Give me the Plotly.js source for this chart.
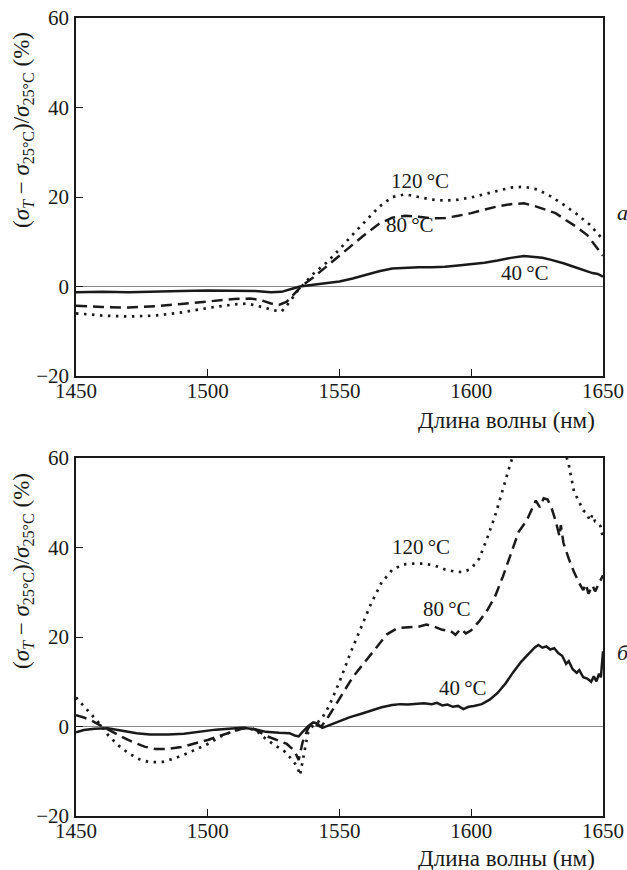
<!DOCTYPE html>
<html><head><meta charset="utf-8">
<script src="https://cdn.plot.ly/plotly-3.0.1.min.js"></script>
<style>html,body{margin:0;padding:0;background:#fff}</style>
</head><body><div id="chart"></div>
<script>
// ---- Panel a (top) ----
const xA40 = [1450,1460,1470,1480,1490,1500,1510,1518,1524,1528,1532,1535,1540,1545,1550,1555,1560,1565,1570,1575,1580,1585,1590,1595,1600,1605,1610,1615,1620,1623,1627,1630,1635,1640,1643,1646,1648,1650];
const yA40 = [-1.3,-1.2,-1.3,-1.1,-1.0,-0.9,-0.9,-1.0,-1.3,-1.2,-0.5,0.0,0.4,0.7,1.1,1.8,2.6,3.4,4.0,4.2,4.3,4.3,4.4,4.7,5.0,5.3,5.8,6.4,6.8,6.7,6.4,6.0,5.2,4.2,3.6,3.0,2.8,2.2];
const xA80 = [1450,1460,1470,1480,1490,1500,1510,1516,1520,1524,1527,1530,1533,1536,1540,1545,1550,1555,1560,1565,1570,1575,1580,1585,1590,1595,1600,1605,1610,1615,1620,1624,1628,1632,1636,1640,1644,1647,1650];
const yA80 = [-4.3,-4.6,-4.7,-4.4,-3.9,-3.3,-2.8,-2.7,-3.0,-3.8,-4.1,-3.4,-1.5,0.3,2.0,4.5,6.8,9.3,11.8,14.0,15.4,15.8,15.6,15.2,15.3,15.8,16.4,17.2,17.9,18.4,18.6,18.0,17.2,16.4,14.8,13.3,11.5,9.2,6.9];
const xA120 = [1450,1460,1470,1480,1490,1500,1510,1515,1520,1525,1528,1531,1534,1537,1540,1545,1550,1555,1560,1565,1570,1575,1580,1585,1590,1595,1600,1605,1610,1615,1620,1625,1630,1635,1640,1645,1650];
const yA120 = [-6.0,-6.5,-6.7,-6.5,-5.8,-4.8,-4.0,-3.8,-4.5,-5.3,-5.6,-3.5,-1.0,1.0,2.8,5.3,8.3,11.6,14.7,17.8,20.0,20.6,20.0,19.4,19.2,19.4,19.9,20.6,21.4,22.1,22.3,21.7,20.2,18.3,16.2,13.8,10.5];

// ---- Panel б (bottom) ----
const xB40 = [1450,1453,1457,1462,1467,1473,1478,1485,1491,1497,1503,1508,1513,1518,1522,1527,1531,1533,1534.5,1536,1538,1540,1541.5,1543.5,1546,1550,1554,1558,1562,1566,1570,1573,1576,1579,1582,1585,1587,1589,1591,1593,1595,1597,1599,1601,1604,1607,1610,1613,1616,1619,1622,1624,1625.5,1627,1628.5,1630,1631.5,1633,1634.5,1636,1637,1638.5,1640,1641,1642.5,1644,1645.5,1646.5,1647.5,1648.5,1649.2,1650];
const yB40 = [-1.3,-0.8,-0.5,-0.4,-0.9,-1.5,-1.8,-1.8,-1.6,-1.1,-0.7,-0.5,-0.3,-0.6,-1.2,-1.4,-1.5,-2.0,-2.2,-1.2,0.0,0.9,0.7,-0.3,0.3,1.3,2.1,2.8,3.5,4.3,4.8,5.0,4.9,5.1,5.2,5.0,5.3,4.7,4.9,4.4,4.6,3.9,4.4,4.6,5.0,6.0,7.5,9.6,12.2,14.5,16.5,17.6,18.2,17.6,17.9,17.2,17.5,16.4,15.8,14.0,14.6,12.8,12.0,12.6,11.0,10.7,10.0,11.2,10.1,11.8,11.0,16.8];
const xB80 = [1450,1453,1456,1460,1464,1468,1472,1476,1480,1485,1490,1495,1500,1505,1510,1514,1517,1520,1523,1527,1530,1533,1534.5,1536,1538,1539.5,1541,1543,1546,1550,1555,1560,1565,1568,1572,1576,1580,1583,1586,1589,1592,1594,1596,1598,1600,1603,1606,1609,1612,1615,1618,1621,1623,1624.5,1626,1627.5,1629,1630.5,1632,1633.5,1634,1635,1637,1639,1641,1642.5,1643.5,1644.5,1646,1647,1648.5,1650];
const yB80 = [2.5,2.0,1.3,0.0,-1.3,-2.5,-3.6,-4.5,-5.0,-5.0,-4.6,-3.8,-3.0,-2.0,-1.0,-0.3,-0.4,-1.3,-2.3,-3.2,-3.9,-5.5,-7.5,-3.5,-0.5,0.8,0.4,-0.1,2.4,6.3,11.0,14.7,18.5,20.6,22.0,22.2,22.3,22.8,22.3,21.6,21.4,20.5,21.8,20.8,21.5,23.5,25.9,29.0,33.5,38.5,43.5,46.0,48.5,50.5,49.0,51.0,50.7,48.8,46.0,42.5,45.0,41.0,37.5,34.5,32.0,30.5,31.8,29.7,31.5,30.2,32.0,33.8];
const xB120 = [1450,1453,1456,1459,1462,1466,1470,1474,1478,1483,1488,1493,1500,1505,1510,1514,1518,1521,1525,1529,1532,1534,1535,1536.5,1538,1540,1543,1546,1550,1554,1558,1562,1566,1570,1574,1578,1582,1586,1590,1594,1597,1600,1603,1606,1609,1612,1615,1618,1622,1626,1630,1634,1637,1639,1641,1642.5,1644,1645,1646,1647,1648,1649,1650];
const yB120 = [6.5,4.5,2.5,0.6,-1.8,-4.2,-6.0,-7.3,-8.0,-7.9,-7.0,-5.8,-3.9,-2.2,-0.9,-0.4,-0.7,-2.3,-4.0,-5.5,-7.4,-9.0,-10.9,-6.5,-1.5,0.3,1.5,4.5,10.0,16.2,22.0,27.5,32.2,35.0,36.2,36.4,36.4,36.0,35.1,34.6,34.5,35.3,37.5,42.0,47.0,53.0,59.0,64.0,68.0,70.0,69.0,64.5,58.5,52.5,50.0,48.3,47.5,46.0,47.3,45.8,45.5,44.8,42.3];

const xTicks = [1450,1500,1550,1600,1650];
const yTicks = [-20,0,20,40,60];
const seriesNames = ['40\u2009°C','80\u2009°C','120\u2009°C'];
const panelLetters = ['а','б'];
const xTitle = 'Длина волны (нм)';
const yTitle = '(<i>σ</i><sub><i>T</i></sub> − <i>σ</i><sub>25°C</sub>)/<i>σ</i><sub>25°C</sub> (%)';

(function () {
  const W = 627, H = 870;
  const L = 76, R = 603, T = 18, B = 816;
  const px = x => (x - L) / (R - L);
  const py = y => (B - y) / (B - T);
  const FAM = 'Liberation Serif';
  const ink = '#1a1a1a';
  const lineStyles = [
    {color: ink, width: 2.5, dash: 'solid'},
    {color: ink, width: 2.5, dash: '11px,6px'},
    {color: ink, width: 2.7, dash: '2.5px,5.5px'}
  ];
  const mk = (x, y, k, xa, ya) => ({x: x, y: y, type: 'scatter', mode: 'lines', name: seriesNames[k],
      xaxis: xa, yaxis: ya, line: lineStyles[k], showlegend: false, hoverinfo: 'skip'});
  const traces = [
    mk(xA40, yA40, 0, 'x', 'y'), mk(xA80, yA80, 1, 'x', 'y'), mk(xA120, yA120, 2, 'x', 'y'),
    mk(xB40, yB40, 0, 'x2', 'y2'), mk(xB80, yB80, 1, 'x2', 'y2'), mk(xB120, yB120, 2, 'x2', 'y2')
  ];
  const xax = anchor => ({anchor: anchor, range: [1450, 1650], tickvals: xTicks, ticktext: xTicks.map(String),
      ticks: 'inside', ticklen: 7, tickwidth: 1.3, tickcolor: ink, ticklabelstandoff: -5,
      showline: true, linecolor: ink, linewidth: 1.6, mirror: true,
      showgrid: false, zeroline: false,
      tickfont: {family: FAM, size: 21, color: ink}});
  const yax = (anchor, dom) => ({anchor: anchor, domain: dom, range: [-20, 60], tickvals: yTicks,
      ticks: 'inside', ticklen: 7, tickwidth: 1.3, tickcolor: ink, ticklabelstandoff: 1,
      showline: true, linecolor: ink, linewidth: 1.6, mirror: true,
      showgrid: false, zeroline: true, zerolinecolor: '#8a8a8a', zerolinewidth: 1,
      tickfont: {family: FAM, size: 21, color: ink}});
  const note = (text, xp, yp, extra) => Object.assign({text: text, xref: 'paper', yref: 'paper',
      x: px(xp), y: py(yp), xanchor: 'center', yanchor: 'middle', showarrow: false,
      font: {family: FAM, size: 21, color: ink}}, extra || {});
  const notes = [
    note(seriesNames[2], 420, 181), note(seriesNames[1], 410, 225), note(seriesNames[0], 525, 273),
    note(seriesNames[2], 421, 547), note(seriesNames[1], 447, 609), note(seriesNames[0], 463, 688),
    note(xTitle, 506, 420, {font: {family: FAM, size: 23, color: ink}}),
    note(xTitle, 506, 859, {font: {family: FAM, size: 23, color: ink}}),
    note(yTitle, 23, 130, {textangle: -90, font: {family: FAM, size: 23, color: ink}}),
    note(yTitle, 23, 571, {textangle: -90, font: {family: FAM, size: 23, color: ink}}),
    note(panelLetters[0], 615, 212, {xanchor: 'left', font: {family: FAM, size: 22, color: ink, style: 'italic'}}),
    note(panelLetters[1], 615, 652, {xanchor: 'left', font: {family: FAM, size: 22, color: ink, style: 'italic'}})
  ];
  const lay = {
    width: W, height: H,
    font: {family: FAM, size: 21, color: ink},
    margin: {l: L, r: W - R, t: T, b: H - B},
    paper_bgcolor: '#fff', plot_bgcolor: '#fff',
    xaxis: xax('y'), yaxis: yax('x', [py(376), 1]),
    xaxis2: xax('y2'), yaxis2: yax('x2', [0, py(458)]),
    annotations: notes, showlegend: false
  };
  Plotly.newPlot('chart', traces, lay, {displayModeBar: false});
})();
</script></body></html>
